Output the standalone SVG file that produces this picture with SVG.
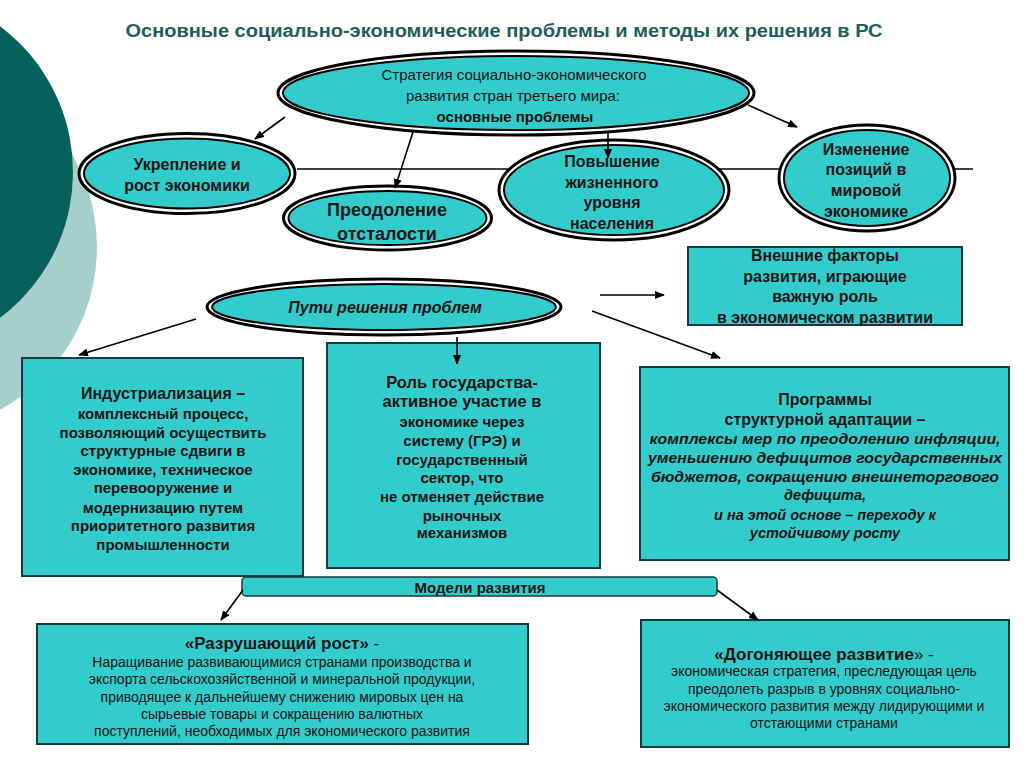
<svg xmlns="http://www.w3.org/2000/svg" width="1024" height="767" viewBox="0 0 1024 767">
<defs>
<marker id="ah" markerWidth="10" markerHeight="8" refX="9" refY="4" orient="auto" markerUnits="userSpaceOnUse">
<path d="M0,0 L10,4 L0,8 Z" fill="#000"/>
</marker>
<style>
.t{font-family:"Liberation Sans",Arial,sans-serif;fill:#151515;text-anchor:middle}
.b{font-weight:bold}
.i{font-style:italic}
.box{fill:#33cccc;stroke:#143c3c;stroke-width:2}
.eo{fill:#fff;stroke:#000;stroke-width:3}
.ei{fill:#33cccc;stroke:#000;stroke-width:2}
.c{stroke:#000;stroke-width:1.6;fill:none;marker-end:url(#ah)}
</style>
</defs>
<rect width="1024" height="767" fill="#fff"/>
<g id="decor">
<circle cx="-88" cy="247" r="185" fill="#a6cfcc"/>
<circle cx="-109" cy="172" r="182" fill="#07605b"/>
</g>
<text class="t b" x="504" y="37" font-size="18" style="fill:#1d5e5a" textLength="757" lengthAdjust="spacingAndGlyphs">Основные социально-экономические проблемы и методы их решения в РС</text>
<g id="line-behind">
<line x1="297" y1="169" x2="973" y2="169" stroke="#000" stroke-width="1.5"/>
</g>
<g id="strategy">
<ellipse class="eo" cx="516" cy="93" rx="238" ry="42"/>
<ellipse class="ei" cx="516" cy="93" rx="233" ry="37"/>
<text class="t" x="514" y="80" font-size="15">Стратегия социально-экономического</text>
<text class="t" x="513" y="101" font-size="15">развития стран третьего мира:</text>
<text class="t b" x="515" y="122" font-size="15">основные проблемы</text>
</g>
<g id="ukreplenie">
<ellipse class="eo" cx="187" cy="173.5" rx="108" ry="40"/>
<ellipse class="ei" cx="187" cy="173.5" rx="103" ry="35"/>
<text class="t b" x="187" y="170" font-size="16">Укрепление и</text>
<text class="t b" x="187" y="191" font-size="16">рост экономики</text>
</g>
<g id="preodolenie">
<ellipse class="eo" cx="387.5" cy="218" rx="104" ry="32"/>
<ellipse class="ei" cx="387.5" cy="218" rx="99" ry="27"/>
<text class="t b" x="387" y="216" font-size="18">Преодоление</text>
<text class="t b" x="387" y="240" font-size="18">отсталости</text>
</g>
<g id="povyshenie">
<ellipse class="eo" cx="614" cy="190" rx="115" ry="50"/>
<ellipse class="ei" cx="614" cy="190" rx="110" ry="45"/>
<text class="t b" x="612" y="167" font-size="16">Повышение</text>
<text class="t b" x="612" y="188" font-size="16">жизненного</text>
<text class="t b" x="612" y="208" font-size="16">уровня</text>
<text class="t b" x="612" y="229" font-size="16">населения</text>
</g>
<g id="izmenenie">
<ellipse class="eo" cx="867" cy="178" rx="88" ry="53"/>
<ellipse class="ei" cx="867" cy="178" rx="83" ry="48"/>
<text class="t b" x="866" y="155" font-size="16">Изменение</text>
<text class="t b" x="866" y="175" font-size="16">позиций в</text>
<text class="t b" x="866" y="196" font-size="16">мировой</text>
<text class="t b" x="866" y="217" font-size="16">экономике</text>
</g>
<g id="vneshnie">
<rect class="box" x="688" y="247" width="274" height="78"/>
<text class="t b" x="825" y="261" font-size="16">Внешние факторы</text>
<text class="t b" x="825" y="282" font-size="16">развития, играющие</text>
<text class="t b" x="825" y="302" font-size="16">важную  роль</text>
<text class="t b" x="825" y="323" font-size="16">в экономическом развитии</text>
</g>
<g id="puti">
<ellipse class="eo" cx="384" cy="307" rx="177" ry="28"/>
<ellipse class="ei" cx="384" cy="307" rx="172" ry="23"/>
<text class="t b i" x="385" y="313" font-size="16">Пути решения проблем</text>
</g>
<g id="industrializaciya">
<rect class="box" x="22" y="358" width="281" height="218"/>
<text class="t b" x="163" y="399" font-size="16">Индустриализация –</text>
<text class="t b" x="163" y="419" font-size="15">комплексный процесс,</text>
<text class="t b" x="163" y="438" font-size="15">позволяющий осуществить</text>
<text class="t b" x="163" y="456" font-size="15">структурные сдвиги в</text>
<text class="t b" x="163" y="475" font-size="15">экономике, техническое</text>
<text class="t b" x="163" y="493" font-size="15">перевооружение и</text>
<text class="t b" x="163" y="513" font-size="15">модернизацию путем</text>
<text class="t b" x="163" y="531" font-size="15">приоритетного развития</text>
<text class="t b" x="163" y="550" font-size="15">промышленности</text>
</g>
<g id="rol">
<rect class="box" x="327" y="343" width="273" height="225"/>
<text class="t b" x="462" y="388" font-size="16.5">Роль государства-</text>
<text class="t b" x="462" y="407" font-size="16.5">активное участие в</text>
<text class="t b" x="462" y="427" font-size="15">экономике через</text>
<text class="t b" x="462" y="446" font-size="15">систему  (ГРЭ) и</text>
<text class="t b" x="462" y="465" font-size="15">государственный</text>
<text class="t b" x="462" y="483" font-size="15">сектор, что</text>
<text class="t b" x="462" y="502" font-size="15">не отменяет действие</text>
<text class="t b" x="462" y="521" font-size="15">рыночных</text>
<text class="t b" x="462" y="538" font-size="15">механизмов</text>
</g>
<g id="programmy">
<rect class="box" x="640" y="367" width="369" height="193"/>
<text class="t b" x="825" y="405" font-size="16">Программы</text>
<text class="t b" x="825" y="425" font-size="16">структурной  адаптации –</text>
<text class="t b i" x="825" y="444" font-size="14.5" textLength="351" lengthAdjust="spacingAndGlyphs">комплексы мер по  преодолению инфляции,</text>
<text class="t b i" x="825" y="463" font-size="14.5" textLength="354" lengthAdjust="spacingAndGlyphs">уменьшению дефицитов  государственных</text>
<text class="t b i" x="825" y="482" font-size="14.5" textLength="348" lengthAdjust="spacingAndGlyphs">бюджетов, сокращению внешнеторгового</text>
<text class="t b i" x="825" y="500" font-size="14.5">дефицита,</text>
<text class="t b i" x="825" y="520" font-size="14.5">и на этой основе – переходу к</text>
<text class="t b i" x="825" y="538" font-size="14.5">устойчивому росту</text>
</g>
<g id="modeli">
<rect x="242" y="577" width="475" height="19" rx="4" fill="#33cccc" stroke="#143c3c" stroke-width="1.5"/>
<text class="t b" x="480" y="593" font-size="15">Модели развития</text>
</g>
<g id="razrushayushchiy">
<rect class="box" x="37" y="624" width="491" height="120"/>
<text class="t" x="282" y="649" font-size="17"><tspan font-weight="bold">«Разрушающий рост»</tspan> -</text>
<text class="t" x="282" y="667" font-size="14">Наращивание развивающимися странами производства и</text>
<text class="t" x="282" y="684" font-size="14">экспорта сельскохозяйственной и  минеральной продукции,</text>
<text class="t" x="282" y="702" font-size="14">приводящее к дальнейшему снижению мировых цен на</text>
<text class="t" x="282" y="719" font-size="14">сырьевые товары и сокращению валютных</text>
<text class="t" x="282" y="736" font-size="14">поступлений, необходимых для экономического развития</text>
</g>
<g id="dogonyayushchee">
<rect class="box" x="641" y="620" width="368" height="127"/>
<text class="t" x="824" y="660" font-size="17"><tspan font-weight="bold">«Догоняющее развитие</tspan>» -</text>
<text class="t" x="824" y="676" font-size="14">экономическая стратегия,  преследующая цель</text>
<text class="t" x="824" y="694" font-size="14">преодолеть разрыв в  уровнях социально-</text>
<text class="t" x="824" y="711" font-size="14">экономического развития  между лидирующими и</text>
<text class="t" x="824" y="728" font-size="14">отстающими странами</text>
</g>
<g id="connectors">
<line class="c" x1="285" y1="117" x2="255" y2="139"/>
<line class="c" x1="413" y1="132" x2="395" y2="188"/>
<line class="c" x1="608" y1="131" x2="608" y2="158"/>
<line class="c" x1="748" y1="105" x2="797" y2="127"/>
<line class="c" x1="196" y1="319" x2="79" y2="355"/>
<line class="c" x1="457" y1="337" x2="457" y2="364"/>
<line class="c" x1="600" y1="295" x2="664" y2="295"/>
<line class="c" x1="592" y1="311" x2="720" y2="358"/>
<line class="c" x1="243" y1="590" x2="221" y2="620"/>
<line class="c" x1="717" y1="590" x2="758" y2="620"/>
</g>
</svg>
